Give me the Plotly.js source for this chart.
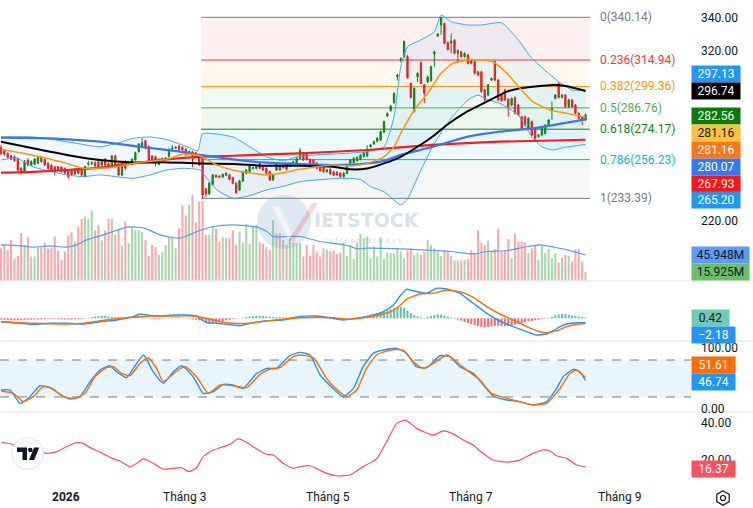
<!DOCTYPE html>
<html><head><meta charset="utf-8">
<script src="https://cdn.plot.ly/plotly-3.0.1.min.js"></script>
<style>html,body{margin:0;padding:0;background:#fff;}#chart{width:753px;height:508px;}</style>
</head><body><div id="chart"></div>
<script>
// ---------------- DATA ----------------
const openP = [263.3,261.5,259.9,258.5,258.0,257.0,251.0,249.1,256.0,253.0,
253.5,254.0,257.6,256.3,254.0,253.0,252.0,252.0,251.8,251.0,
250.0,249.5,247.8,250.5,250.5,246.2,253.5,253.8,254.5,255.0,
253.0,256.5,254.0,253.0,258.4,253.7,247.2,254.1,253.5,253.5,
256.0,260.9,264.3,267.4,263.9,258.4,258.0,253.5,256.2,256.5,
258.0,262.5,263.0,264.3,263.5,262.3,260.0,260.9,260.3,259.0,
257.0,239.0,236.0,241.5,247.0,246.5,246.0,247.0,247.2,245.5,
242.3,238.3,243.5,248.2,249.2,251.0,251.1,254.1,251.7,251.1,
249.1,244.2,250.1,252.5,251.5,253.7,252.5,253.1,253.1,257.0,
260.3,259.9,256.4,256.0,254.1,252.5,251.7,249.1,250.5,249.1,
248.8,248.2,246.2,248.2,254.1,254.5,255.6,256.4,258.0,258.4,
263.9,265.5,267.0,267.8,272.5,281.9,285.1,289.8,305.1,315.0,
316.9,317.0,301.2,284.5,305.1,313.4,300.2,302.0,302.8,318.5,
329.1,335.6,336.5,325.2,325.0,326.7,318.9,319.8,316.9,317.9,
314.9,314.0,308.0,308.0,297.3,294.3,303.1,314.0,303.1,294.3,
297.3,291.8,288.4,292.9,288.4,281.5,281.5,274.7,278.6,274.7,
269.7,270.7,271.7,276.6,285.5,292.3,301.2,292.9,294.3,287.4,
291.4,288.4,283.5,281.5,279.6];
const highP = [265.0,262.2,260.5,259.0,258.6,257.5,251.8,256.0,257.0,255.8,
257.2,258.4,258.2,257.0,254.6,253.6,252.6,252.5,252.4,251.6,
250.6,250.0,250.8,251.1,251.0,252.6,255.5,255.2,255.2,255.6,
255.6,257.2,254.6,259.0,259.0,254.3,254.7,256.0,255.2,257.0,
260.9,266.0,268.8,268.0,264.5,259.0,258.6,257.0,257.4,257.8,
262.9,264.8,264.2,264.9,264.1,262.9,261.6,261.5,260.9,259.6,
258.0,239.6,242.9,247.8,247.6,247.1,248.1,248.8,247.8,246.1,
242.9,244.3,249.7,250.7,253.1,252.1,252.7,254.7,252.3,251.7,
249.7,247.8,254.3,253.1,253.7,254.3,254.7,255.6,257.6,263.0,
260.9,260.5,257.0,256.6,254.7,253.1,252.3,250.7,251.1,249.7,
249.4,248.8,248.8,253.7,256.6,257.6,258.2,259.6,260.9,264.8,
265.5,267.4,269.4,273.3,279.2,284.1,288.4,295.9,306.8,316.5,
326.4,318.0,301.8,298.8,307.7,314.0,300.8,305.7,311.6,320.4,
330.9,340.14,337.1,325.8,330.6,327.3,321.1,320.4,319.5,318.5,
315.5,314.6,308.6,308.6,297.9,300.8,304.7,314.6,303.7,294.9,
297.9,292.4,292.9,293.5,289.0,282.1,282.1,281.2,279.2,275.3,
271.3,276.2,277.2,280.2,290.4,294.9,301.8,294.9,294.9,292.0,
292.0,289.0,284.1,282.1,283.5];
const lowP = [259.0,258.5,257.0,256.0,255.0,249.0,248.0,248.0,252.5,252.5,
253.0,253.5,254.5,252.5,250.4,249.5,247.0,249.4,248.6,247.6,
245.0,246.6,247.2,247.6,246.5,245.8,252.5,253.0,252.0,251.4,
252.4,252.4,251.4,252.4,252.4,246.6,246.6,250.0,253.0,253.0,
255.5,260.4,263.8,262.3,255.4,254.4,252.1,253.0,255.6,256.0,
257.4,262.0,262.5,261.4,261.4,258.4,259.4,251.7,257.4,252.4,
233.39,234.0,235.4,241.0,245.4,245.4,245.4,246.4,244.0,241.7,
236.0,237.7,243.0,247.6,248.6,250.4,250.5,250.5,249.5,247.6,
243.6,243.6,249.5,249.5,250.9,249.9,251.9,252.5,252.5,256.4,
255.4,255.8,252.5,251.0,250.5,249.1,248.5,248.5,247.2,246.6,
246.6,245.5,245.6,247.6,253.5,254.0,255.0,255.8,257.4,257.8,
263.3,264.9,266.4,267.2,271.9,281.3,284.5,289.2,303.0,313.5,
316.3,303.9,292.3,283.9,302.0,300.6,289.5,301.4,302.2,311.0,
328.5,330.0,324.2,320.6,318.9,318.3,313.0,316.3,316.3,312.4,
312.4,306.5,305.5,295.7,290.4,293.7,302.5,302.5,290.8,290.4,
290.8,281.5,287.8,282.9,281.9,274.1,276.0,274.1,270.1,266.8,
269.1,270.1,271.1,276.0,279.6,291.7,292.3,292.3,286.8,286.8,
286.8,282.9,280.0,276.6,279.0];
const closeP = [259.9,259.5,257.6,256.5,255.6,250.1,249.0,255.0,253.0,255.0,
256.5,257.6,255.0,253.1,251.0,250.1,249.1,250.0,249.2,248.2,
246.2,247.2,250.1,248.2,247.2,252.1,254.1,254.4,252.5,252.0,
255.0,253.0,252.0,258.4,253.0,247.2,254.1,251.1,254.5,256.4,
260.3,265.5,266.2,262.9,256.0,255.0,255.0,256.4,256.8,257.2,
262.3,263.0,263.5,262.0,262.0,259.0,261.0,258.4,258.0,253.0,
235.4,236.0,242.3,247.2,246.0,246.0,247.5,248.2,244.6,242.3,
236.8,243.7,249.1,250.1,252.5,251.5,252.1,251.1,250.1,248.2,
244.2,247.2,253.7,250.1,253.1,250.5,254.1,255.0,257.0,261.5,
256.0,256.4,253.1,252.1,251.1,249.7,249.1,250.1,247.8,247.2,
247.2,246.2,248.2,253.1,256.0,257.0,257.6,259.0,260.3,262.3,
264.9,266.8,268.8,272.7,278.6,283.5,287.8,295.3,306.1,315.7,
325.8,304.5,292.9,298.2,307.1,301.2,295.3,305.0,311.0,319.8,
330.3,340.1,324.8,321.2,326.0,318.9,320.5,316.9,318.9,313.0,
313.0,307.1,306.1,296.3,291.4,300.2,304.1,303.1,291.4,291.0,
291.4,287.4,292.3,283.5,282.5,274.7,276.6,280.6,270.7,268.8,
270.7,275.6,276.6,279.6,286.4,294.3,292.9,294.3,287.4,291.4,
287.4,283.5,280.6,279.6,282.56];
// volume in millions
const volumeM = [58,65.4,55.2,73.2,39,44.4,85.2,64.2,78,43.2,
43.2,60,60,68.4,57,59.4,79.2,54,37.2,52.2,
80.4,86.4,70.2,97.2,111,115.2,111,126,90,100.2,
72,90,111,111,82.2,92.4,63,106.2,67.2,98.4,
91.2,91.2,87,73.2,44.4,64.2,60,46.2,51,64.2,
79.2,79.2,58.2,94.2,135,117,136.2,154.2,105,142.2,
143.4,82.2,82.2,96,92.4,70.2,77.4,76.2,76.2,90,
64.2,88.2,67.2,102,66,97.2,100.2,68.4,66,60,
55.2,109.2,85.2,85.2,73.2,64.2,78,68.4,67.2,
67.2,43.2,64.2,44.4,64.2,51,43.2,58.2,55.2,52.2,
54,48,50.4,68.4,44.4,64.2,39,68.4,84,76.2,
79.2,40.2,61.2,43.2,78,39,50.4,49.2,49.2,58.2,
52.2,40.2,54,58.2,46.2,49.2,46.2,52.2,73.2,64.2,
58.2,52.2,44.4,54,52.2,44.4,36,36,36,37.2,
38.4,55.2,49.2,90,68.4,64.2,72,52.2,56.4,93,
52.2,54,74.4,40.2,84,70.2,70.2,68.4,49.2,58.2,
63,37.2,62.4,49.2,56.4,40.2,49.2,32.4,41.4,46.2,
44.4,34.2,56.4,56.4,34.2,15.925];
const volMAIdx = [0,5.7,9.6,14.6,19.5,22.5,25.5,29.5,33.4,37.4,41.4,43.4,47.3,53.3,57.2,59.2,63.2,69.1,73.1,76.1,79.1,81,85,89,94.9,100.9,104,106,109,119,128.9,133.9,140.9,144.8,150.8,156.7,160.7,164.6,168.6,174];
const volMA = [64.2,62.4,60,62.4,60,64.2,73.2,80.4,88.2,96,95.4,92.4,82.2,76.2,85.2,90,97.2,100.2,98.4,96,88.2,79.2,79.2,79.2,70.2,65.4,61.2,57,58.2,57,54,52.2,48,52.2,54,61.2,64.2,60,55.2,45.948];

const bbUpperIdx = [0,9.5,19.6,29.5,34.5,39.3,44.3,49.4,55.4,58.6,60,69,74,79,84,89,99,109,114,117,119,121,125,129,131,134,139,143,149,154,158,163,166,170,174];
const bbUpper = [269.6,269.6,266.8,263.8,265.8,268.8,269.6,268.0,263.8,261.5,271.5,269.6,263.8,257.9,255.6,258.4,259.5,260.9,263.8,281.5,311,322.8,326.8,331.6,341.5,337.5,335.6,335.6,336.9,326.8,316,307.1,302.2,297.3,297.13];
const bbLowerIdx = [0,4.8,9.5,19.6,24.4,29.5,39.3,44.3,49.4,54.2,59.2,61.3,64.3,69,74,79,84,89,101,107,110,114,119,121,125,129,134,139,142,145,148.5,154,158,161,164,168,174];
const bbLower = [256,257,252,247.2,246.2,247.2,245.2,247.2,250.1,251.1,250.1,245.2,238.3,233.4,235.0,238.3,240.5,243.2,245.2,244.5,240.3,237.3,229.5,233,250.1,265.8,280.6,291.4,294.3,291.4,289.4,282.5,269.6,263.8,261.9,263.5,265.2];
const ma20Idx = [0,5.7,11.6,19.6,24.4,29.5,34.5,39.3,49.4,54.2,59.2,64.3,69,79,84,89,99,104,109,114,117,119,123,127,131,134.5,139,142.6,146.4,150.6,154.5,158.3,163.4,168.5,174];
const ma20 = [262.3,260.3,257.9,254.0,251.1,251.1,252.0,254,256.4,259.5,258.5,253,250.1,247.2,248.5,250.5,253.1,252.5,254,257.9,263.8,271.7,285.5,295.3,307.1,313,314.9,314.9,313.9,307.1,298.3,290.4,285.5,283.5,281.16];
const maBlackIdx = [0,9.5,19.6,29.5,39.3,49.4,59.2,69,79,89,99,104,109,114,119,124,128.6,132.7,138.7,144.6,150.6,154.5,158.3,164.3,168.5,174];
const maBlack = [266.8,262.9,259,256,254.6,254.6,254.0,253.6,252.6,252.6,252,250.5,251,254,257.9,263.8,270,276.6,284.5,290.4,296.3,298.3,299.2,300.2,299.5,296.74];
const maBlueIdx = [0,14.6,29.5,41.4,53.3,59.2,69,79,89,99,109,114,119,128.6,138.7,148.5,158.3,164.3,170.2,174];
const maBlue = [269.2,268.8,266.8,263.8,260.9,259.0,256.4,254.4,253.6,253,254,255.5,259,263.8,269.6,272.7,274.7,276.6,278.6,280.07];
const maRedIdx = [0,9.5,19.6,29.5,39.3,49.4,59.2,69,79,89,109,128.6,148.5,174];
const maRed = [248.5,249,250.1,251.5,254,256.4,257.9,258.5,259.3,259.9,261.9,264.9,266.8,267.93];

const fibRatios = [0,0.236,0.382,0.5,0.618,0.786,1];
const fibPrices = [340.14,314.94,299.36,286.76,274.17,256.23,233.39];

const macdIdx = [0,5.6,9.6,14.6,19.5,24.5,29.5,34.4,39.4,41.4,43.4,47.3,51.3,55.3,58.2,60.2,61.2,64.2,69.1,71.1,75.1,79.1,84,89,94,98.9,101.9,108.8,113.8,116.8,118.8,120.7,122.7,126.7,129.7,132.7,136.6,140.6,144.6,148.5,152.5,156.5,159.4,162.4,164.4,166.4,168.4,171.3,174];
const macdLine = [-1.7,-2.5,-3.0,-2.5,-2.5,-2.85,-1.7,-0.85,0.8,2.15,1.65,1.15,1.65,1.65,1.15,-1.2,-2.2,-2.5,-3.35,-3.7,-2.2,-1.2,-0.85,0.9,1.15,0,-0.85,0.8,3.3,6.65,11.15,14.5,13.8,12.5,15,14.65,12.5,7.5,2.5,-1.35,-4.2,-6.7,-8.35,-7.85,-6.2,-4.2,-2.85,-2.2,-2.18];
const signalIdx = [0,9.6,19.5,24.5,29.5,39.4,44.3,49.3,57.2,61.2,65.2,69.1,74.1,79.1,89,98.9,103.9,108.8,113.8,116.8,118.8,120.7,124.7,128.7,132.7,136.6,140.6,144.6,148.5,152.5,156.5,160.4,162.4,165.4,168.4,171.3,174];
const signalLine = [-1.7,-2.5,-2.85,-2.5,-1.2,0.5,1.15,1.15,1.15,0,-1.7,-2.5,-2.5,-1.35,0.3,0.35,-0.5,0.5,2.15,4.0,6.5,9.5,12.15,12.5,14.15,13.3,10.5,5.8,2.15,-0.85,-4.2,-6.7,-7.2,-6.2,-4.2,-3.0,-2.6];
const macdHist = [-0.6,-0.8,-0.9,-1.0,-1.0,-0.9,-0.8,-0.8,-0.7,-0.7,-0.6,-0.6,-0.5,-0.5,
-0.4,-0.3,-0.3,-0.4,-0.5,-0.6,-0.6,-0.6,-0.5,-0.5,-0.4,-0.2,
0.3,0.6,0.9,1.1,1.2,1.2,1.0,0.8,0.6,0.5,0.5,0.6,0.9,1.0,0.9,0.7,
0.4,0.2,-0.1,-0.3,-0.5,-0.4,-0.3,0.1,0.3,0.4,
0.5,0.5,0.3,0.1,-0.2,
-0.6,-0.8,-1.0,-1.4,
-2.3,-2.6,-2.5,-2.2,-1.8,
-1.4,-1.0,-0.7,-0.4,-0.2,-0.1,0.2,
0.6,0.9,1.1,1.2,1.2,1.1,0.9,0.8,0.7,0.6,
0.5,0.5,0.4,0.5,0.6,0.6,
0.4,0.3,0.2,0.1,0,-0.1,-0.2,-0.3,-0.3,-0.4,
-0.6,-0.8,-0.7,-0.5,-0.3,-0.1,0.2,0.5,
0.8,1.1,1.4,1.8,2.2,2.6,3.0,
3.5,4.0,4.5,5.0,5.6,5.8,5.2,
3.8,2.6,1.6,1.0,0.5,0.2,
0.6,1.2,1.6,2.0,1.8,1.4,0.9,0.4,
-0.2,-0.6,-1.2,-1.8,-2.4,-2.9,-3.4,-3.9,-4.4,-4.6,-4.3,-4.0,-3.8,-3.6,
-3.8,-4.0,-3.9,-3.6,-3.2,-2.8,-2.4,-2.0,-1.6,
-1.3,-1.0,-0.7,-0.4,-0.2,0.3,
0.8,1.4,2.0,2.2,2.1,1.8,1.5,1.2,0.9,0.6,0.42];

const stochKIdx = [0,2.7,5.7,8.6,11.6,14.6,17.6,20.5,23.5,26.5,29.5,32.4,34.4,37.4,39.4,42.4,45.3,48.3,51.3,53.8,57.2,60.2,63.2,66.2,69.1,72.1,76.1,79.1,82,86,89,92,95,98.9,101.9,104.9,107.8,110.8,113.8,117.8,120.7,123.7,126.7,130.7,133.6,136.6,140.6,143.6,146.5,150.5,154.5,158.4,162.4,165.4,167.4,170.3,172.3,174];
const stochK = [31.3,31.3,9.7,20.5,38.3,35.1,24.3,16.7,20.5,44.8,63.8,70.8,61.1,51.3,66.5,88.1,61.1,42.1,61.1,70.8,53,25.9,28.6,40.5,39.4,34,58.4,66.5,66.5,87,92.5,88.1,55.7,34,20.5,34,69.2,90.8,96.2,99,90.8,69.2,67.6,87,85.4,69.2,58.4,39.4,21.6,15.1,12.4,7,12.4,34,53,64.9,61.1,46.74];
const stochDIdx = [0,3.7,6.6,9.6,12.6,15.6,18.5,22,25,28,31,33.4,35.9,38.4,41.4,43.8,46.3,48.3,52.3,54.8,58.2,61.7,65.2,69.1,73.1,77.1,80.1,83,87,89,93,96.9,99.9,102.9,105.9,108.8,111.8,115.8,119.8,122.7,125.7,128.7,132.7,135.6,138.6,142.6,146,149.5,153.5,158.4,162.4,166.4,169.4,171.3,174];
const stochD = [29.7,25.9,12.4,20.5,36.7,32.9,20.5,17.8,25.9,53,66.5,69.2,58.4,54.6,74.6,83.8,66.5,44.8,62.2,69.2,53,25.9,39.4,38.3,35.1,56.8,65.4,67.6,85.4,88.1,83.8,50.3,32.4,20.5,31.3,66.5,88.1,96.2,96.2,77.3,66.5,74.6,88.1,77.3,63.8,47.5,25.9,19.4,13.5,7,9.7,34,58.4,63.8,51.61];

const adxIdx = [0,3.7,9.6,13.6,16.6,19.5,22.5,24.5,26.5,29.5,33.4,35.4,38.4,40.4,42.4,45.3,48.3,51.3,53.8,55.8,58.2,60.2,63.2,66.2,68.2,70.6,73.1,76.1,79.1,81.1,84,87,89,92,96.9,99.9,103.9,107.8,111.8,114.8,117.8,120.5,123.7,128.7,131.7,134.6,137.6,140.6,142.6,146.5,150.5,154.5,158.4,161.4,163.4,165.4,168.4,171.3,174];
const adxLine = [29.6,28.5,25.3,23.6,24.5,27.2,29.4,29.0,26.7,24.2,20.6,19.5,16.4,18.2,20.6,18.2,15.1,15.5,15.8,13.7,15.8,21.8,25.4,27.2,28.5,31.4,29.6,26,23.1,22.7,18.2,15.5,16.4,16.9,12.8,11.5,11.9,16.4,20.6,29.9,39.8,41.6,37.1,33.5,35.7,34.1,30.8,28.1,24.9,20,18.8,20,23.6,25.4,24.9,22.3,20.9,17.3,16.37];

const tickPos = [19.3, 54.5, 97.3, 139.9, 184.2];
const tickText = ['<b>2026</b>','Tháng 3','Tháng 5','Tháng 7','Tháng 9'];
const priceTicks = [340, 320, 220];
const stochTicks = [100, 0];
const adxTicks = [40, 20];

// ---------------- BUILD ----------------
const W = 753, H = 508;
const px = x => x / W;
const py = y => 1 - y / H;
const FONT = 'Roboto, "Open Sans", sans-serif';
const UP = '#0a870a', DOWN = '#f01a1a';

const n = closeP.length;
const idx = Array.from({length: n}, (_, i) => i);
const isUp = closeP.map((c, i) => c >= openP[i]);

const traces = [];
traces.push({type:'bar', x: idx, y: volumeM, xaxis:'x', yaxis:'y',
  marker:{color: isUp.map(u => u ? '#a8d8a9' : '#f9a9ad'), line:{width:0}}, hoverinfo:'skip'});
traces.push({type:'scatter', mode:'lines', x: volMAIdx, y: volMA, xaxis:'x', yaxis:'y',
  line:{color:'#5b9cf6', width:1.2, shape:'spline', smoothing:0.6}, hoverinfo:'skip'});
const spl = {shape:'spline', smoothing:0.5};
traces.push({type:'scatter', mode:'lines', x: bbUpperIdx, y: bbUpper, xaxis:'x', yaxis:'y2',
  line:Object.assign({color:'#42a5f5', width:1}, spl), hoverinfo:'skip'});
traces.push({type:'scatter', mode:'lines', x: bbLowerIdx, y: bbLower, xaxis:'x', yaxis:'y2',
  line:Object.assign({color:'#42a5f5', width:1}, spl), fill:'tonexty', fillcolor:'rgba(33,150,243,0.07)', hoverinfo:'skip'});
traces.push({type:'scatter', mode:'lines', x: maRedIdx, y: maRed, xaxis:'x', yaxis:'y2',
  line:Object.assign({color:'#ff1a1a', width:2.2}, spl), hoverinfo:'skip'});
traces.push({type:'scatter', mode:'lines', x: maBlueIdx, y: maBlue, xaxis:'x', yaxis:'y2',
  line:Object.assign({color:'#3677f2', width:2.2}, spl), hoverinfo:'skip'});
traces.push({type:'scatter', mode:'lines', x: maBlackIdx, y: maBlack, xaxis:'x', yaxis:'y2',
  line:Object.assign({color:'#000000', width:2}, spl), hoverinfo:'skip'});
traces.push({type:'scatter', mode:'lines', x: ma20Idx, y: ma20, xaxis:'x', yaxis:'y2',
  line:Object.assign({color:'#ff9800', width:1.5}, spl), hoverinfo:'skip'});
traces.push({type:'candlestick', x: idx, open: openP, high: highP, low: lowP, close: closeP,
  xaxis:'x', yaxis:'y2', whiskerwidth:0,
  increasing:{line:{color:UP, width:1}, fillcolor:UP},
  decreasing:{line:{color:DOWN, width:1}, fillcolor:DOWN}, hoverinfo:'skip'});
traces.push({type:'bar', x: idx, y: macdHist, xaxis:'x', yaxis:'y3',
  marker:{color: macdHist.map(v => v >= 0 ? '#5ec4b0' : '#f26d78'), line:{width:0}}, hoverinfo:'skip'});
traces.push({type:'scatter', mode:'lines', x: macdIdx, y: macdLine, xaxis:'x', yaxis:'y3',
  line:Object.assign({color:'#2196f3', width:1.4}, spl), hoverinfo:'skip'});
traces.push({type:'scatter', mode:'lines', x: signalIdx, y: signalLine, xaxis:'x', yaxis:'y3',
  line:Object.assign({color:'#ff6d00', width:1.4}, spl), hoverinfo:'skip'});
traces.push({type:'scatter', mode:'lines', x: stochKIdx, y: stochK, xaxis:'x', yaxis:'y4',
  line:Object.assign({color:'#2196f3', width:1.4}, spl), hoverinfo:'skip'});
traces.push({type:'scatter', mode:'lines', x: stochDIdx, y: stochD, xaxis:'x', yaxis:'y4',
  line:Object.assign({color:'#ff6d00', width:1.4}, spl), hoverinfo:'skip'});
traces.push({type:'scatter', mode:'lines', x: adxIdx, y: adxLine, xaxis:'x', yaxis:'y5',
  line:Object.assign({color:'#f7525f', width:1.2}, spl), hoverinfo:'skip'});

// ---------------- SHAPES ----------------
const shapes = [];
const fibX0 = 59.6, fibX1 = 175.3;
const fibLineColors = ['#787b86','#f23645','#ff9800','#4caf50','#137f13','#00bcd4','#787b86'];
const fibFills = ['rgba(242,54,69,0.08)','rgba(255,152,0,0.07)','rgba(76,175,80,0.07)','rgba(76,175,80,0.09)','rgba(0,188,212,0.07)','rgba(120,123,134,0.07)'];
for (let i = 0; i < fibPrices.length - 1; i++) {
  shapes.push({type:'rect', xref:'x', yref:'y2', x0:fibX0, x1:fibX1, y0:fibPrices[i], y1:fibPrices[i+1],
    fillcolor:fibFills[i], line:{width:0}, layer:'below'});
}
fibPrices.forEach((p, i) => shapes.push({type:'line', xref:'x', yref:'y2', x0:fibX0, x1:fibX1, y0:p, y1:p,
  line:{color:fibLineColors[i], width:1}, layer:'below'}));
[281, 341, 412].forEach(y => shapes.push({type:'line', xref:'paper', yref:'paper', x0:0, x1:1, y0:py(y), y1:py(y),
  line:{color:'#e0e3eb', width:1}}));
shapes.push({type:'rect', xref:'paper', yref:'y4', x0:0, x1:px(691), y0:20, y1:80, fillcolor:'rgba(33,150,243,0.1)', line:{width:0}, layer:'below'});
[20, 80].forEach(v => shapes.push({type:'line', xref:'paper', yref:'y4', x0:0, x1:px(691), y0:v, y1:v,
  line:{color:'#787b86', width:1, dash:'dash'}, layer:'below'}));

function pathOf(pts) { return 'M' + pts.map(p => px(p[0]).toFixed(5) + ',' + py(p[1]).toFixed(5)).join(' L') + ' Z'; }
shapes.push({type:'circle', xref:'paper', yref:'paper', x0:px(257), x1:px(311), y0:py(249), y1:py(195),
  fillcolor:'rgba(110,155,210,0.22)', line:{width:0}, layer:'above'});
shapes.push({type:'path', xref:'paper', yref:'paper', path:pathOf([[272,206],[279,206],[292,234],[289,240]]),
  fillcolor:'rgba(255,255,255,0.55)', line:{width:0}, layer:'above'});
shapes.push({type:'path', xref:'paper', yref:'paper', path:pathOf([[289,240],[312,203],[318,203],[294,241]]),
  fillcolor:'rgba(240,80,90,0.25)', line:{width:0}, layer:'above'});
shapes.push({type:'circle', xref:'paper', yref:'paper', x0:px(11.5), x1:px(43.5), y0:py(469.5), y1:py(437.5),
  fillcolor:'#ffffff', line:{color:'#e0e3eb', width:1}, layer:'above'});
shapes.push({type:'path', xref:'paper', yref:'paper', path:pathOf([[17,447.5],[27,447.5],[27,460],[22.5,460],[22.5,452],[17,452]]),
  fillcolor:'#131722', line:{width:0}, layer:'above'});
shapes.push({type:'circle', xref:'paper', yref:'paper', x0:px(28), x1:px(32.6), y0:py(452.3), y1:py(447.7),
  fillcolor:'#131722', line:{width:0}, layer:'above'});
shapes.push({type:'path', xref:'paper', yref:'paper', path:pathOf([[34,447.5],[39.2,447.5],[34.2,460],[29,460]]),
  fillcolor:'#131722', line:{width:0}, layer:'above'});
const hex = [];
for (let k = 0; k < 6; k++) { const a = (-90 + 60 * k) * Math.PI / 180; hex.push([723 + 7.2 * Math.cos(a), 498 + 7.2 * Math.sin(a)]); }
shapes.push({type:'path', xref:'paper', yref:'paper', path:pathOf(hex), line:{color:'#131722', width:1.2}, fillcolor:'rgba(0,0,0,0)', layer:'above'});
shapes.push({type:'circle', xref:'paper', yref:'paper', x0:px(720.5), x1:px(725.5), y0:py(500.5), y1:py(495.5),
  line:{color:'#131722', width:1.2}, fillcolor:'rgba(0,0,0,0)', layer:'above'});

// ---------------- ANNOTATIONS ----------------
const annotations = [];
annotations.push({xref:'paper', yref:'paper', x:px(312), y:py(220), xanchor:'left', yanchor:'middle', showarrow:false,
  text:'IETSTOCK', font:{family:'"DejaVu Sans", sans-serif', size:19, color:'rgba(130,150,185,0.30)', weight:'bold'}});
annotations.push({xref:'paper', yref:'paper', x:px(322), y:py(240), xanchor:'left', yanchor:'middle', showarrow:false,
  text:'r e f r e s h &nbsp; a l w a y s', font:{family:FONT, size:8, color:'rgba(130,150,185,0.35)'}});
fibPrices.forEach((p, i) => annotations.push({xref:'paper', yref:'y2', x:px(598), y:p, xanchor:'left', yanchor:'middle',
  showarrow:false, text: fibRatios[i] + '(' + p.toFixed(2) + ')', font:{family:FONT, size:12, color: i === 4 ? '#137f13' : fibLineColors[i]}}));
function tick(v, yref) { annotations.push({xref:'paper', yref, x:px(699), y:v, xanchor:'left', yanchor:'middle', showarrow:false,
  text: v.toFixed(2), font:{family:FONT, size:12, color:'#131722'}}); }
priceTicks.forEach(v => tick(v, 'y2'));
stochTicks.forEach(v => tick(v, 'y4'));
adxTicks.forEach(v => tick(v, 'y5'));
tickPos.forEach((t, i) => annotations.push({xref:'x', yref:'paper', x:t, y:py(497), xanchor:'center', yanchor:'middle', showarrow:false,
  text: tickText[i], font:{family:FONT, size:12, color:'#131722'}}));
const last = a => a[a.length - 1];
const fmt = v => v.toFixed(2).replace('-', '\u2212');
function box(text, yc, bg, fg, w) { annotations.push({xref:'paper', yref:'paper', x:px(691), y:py(yc), xanchor:'left', yanchor:'middle',
  showarrow:false, text, bgcolor:bg, width:w, height:16, borderpad:0, align:'center', font:{family:FONT, size:12, color:fg}}); }
box(fmt(last(bbUpper)), 74, '#2196f3', '#ffffff', 48);
box(fmt(last(maBlack)), 91, '#000000', '#ffffff', 48);
box(fmt(last(closeP)), 116, '#0a7a0a', '#ffffff', 48);
box(fmt(last(ma20)), 133, '#f9c13c', '#131722', 48);
box(fmt(last(ma20)), 150, '#ff7614', '#ffffff', 48);
box(fmt(last(maBlue)), 166.5, '#3179f5', '#ffffff', 48);
box(fmt(last(maRed)), 183.5, '#ff1414', '#ffffff', 48);
box(fmt(last(bbLower)), 200.5, '#2196f3', '#ffffff', 48);
box(last(volMA).toFixed(3) + 'M', 255, '#5b9cf6', '#131722', 57);
box(last(volumeM).toFixed(3) + 'M', 271.7, '#6abf69', '#131722', 57);
box(fmt(last(macdHist)), 318, '#70c9b8', '#131722', 37);
box(fmt(last(macdLine)), 334.5, '#2196f3', '#ffffff', 43);
box(fmt(last(stochD)), 364.7, '#ff6d00', '#ffffff', 43);
box(fmt(last(stochK)), 381.7, '#2196f3', '#ffffff', 43);
box(fmt(last(adxLine)), 468.5, '#f7525f', '#ffffff', 43);

const layout = {
  width: W, height: H, margin:{l:0, r:0, t:0, b:0, pad:0},
  paper_bgcolor:'#ffffff', plot_bgcolor:'rgba(0,0,0,0)', showlegend:false,
  bargap:0.38, boxgap:0.45, font:{family:FONT, size:12, color:'#131722'},
  xaxis:{domain:[0, px(690)], range:[-0.3, 205.1], visible:false, rangeslider:{visible:false}, fixedrange:true, anchor:'y'},
  yaxis:{domain:[py(281), 1], range:[-0.9, 504.9], visible:false, fixedrange:true, anchor:'x'},
  yaxis2:{domain:[py(281), 1], range:[184.66, 350.34], visible:false, overlaying:'y', fixedrange:true, anchor:'x'},
  yaxis3:{domain:[py(341), py(281)], range:[-11.35, 18.65], visible:false, fixedrange:true, anchor:'x'},
  yaxis4:{domain:[py(412), py(341)], range:[-4.38, 110.9], visible:false, fixedrange:true, anchor:'x'},
  yaxis5:{domain:[py(481), py(412)], range:[8.65, 45.95], visible:false, fixedrange:true, anchor:'x'},
  shapes, annotations
};
Plotly.newPlot('chart', traces, layout, {staticPlot:true, displayModeBar:false});
</script></body></html>
